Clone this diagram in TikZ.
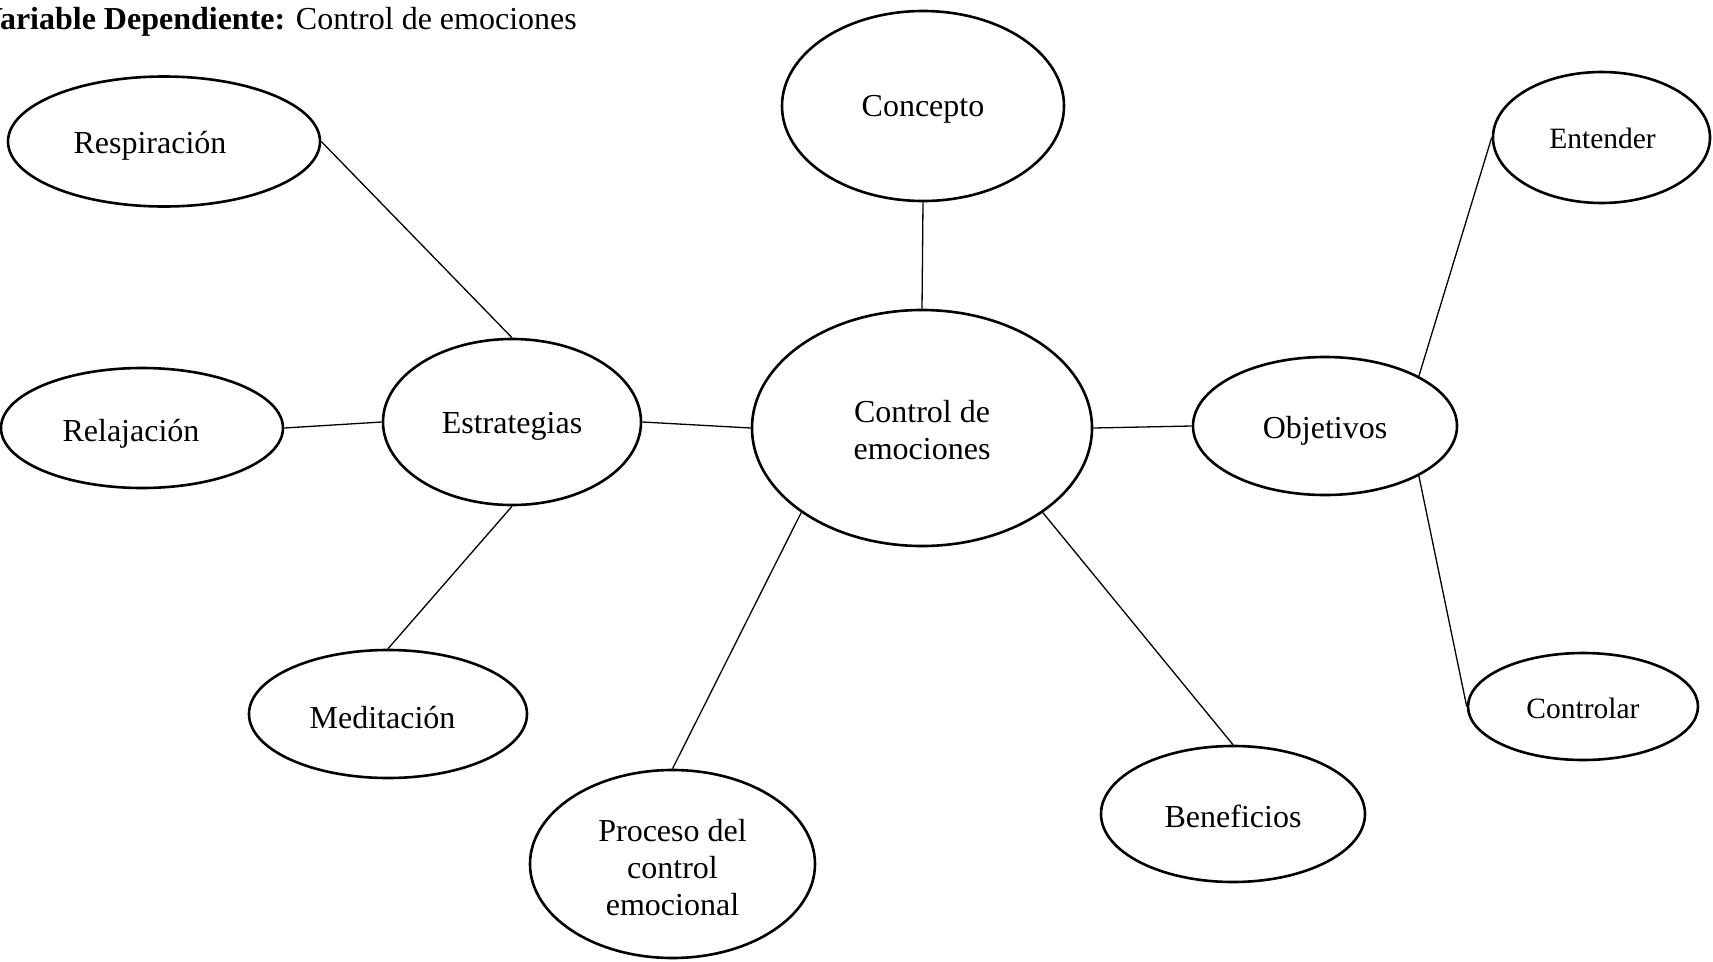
\documentclass[tikz,border=0pt]{standalone}
\usepackage{fontspec}
\setmainfont{Liberation Serif}
\usetikzlibrary{shapes.geometric}
\begin{document}
\begin{tikzpicture}[x=1pt,y=-1pt,
  ell/.style={ellipse, draw=black, line width=2.6pt, fill=white, inner sep=0pt},
  lbl/.style={font=\fontsize{32}{37}\selectfont, align=center},
  lbls/.style={font=\fontsize{29.5}{34}\selectfont, align=center},
  conn/.style={draw=black, line width=1.3pt},
  ttl/.style={font=\fontsize{32}{37}\selectfont, inner sep=0pt}]
\useasboundingbox (0,0) rectangle (1713,961);
\fill[white] (0,0) rectangle (1713,961);

\node[ttl, anchor=base east] (title) at (577,29) {\textbf{Variable Dependiente:} Control de emociones};

\node[ell, minimum width=340pt, minimum height=236pt,
  label={[lbl, yshift=-2.5pt]center:Control de\\emociones}] (ctrl) at (922,428) {};
\node[ell, minimum width=282pt, minimum height=190pt,
  label={[lbl, yshift=-3.5pt]center:Concepto}] (conc) at (923,106) {};
\node[ell, minimum width=258pt, minimum height=166pt,
  label={[lbl, yshift=-4.5pt]center:Estrategias}] (estr) at (512,422) {};
\node[ell, minimum width=312pt, minimum height=130pt,
  label={[lbl, xshift=-14pt, yshift=-4.5pt]center:Respiración}] (resp) at (164,141.5) {};
\node[ell, minimum width=282pt, minimum height=120pt,
  label={[lbl, xshift=-11pt, yshift=-6pt]center:Relajación}] (rel) at (142,428) {};
\node[ell, minimum width=278pt, minimum height=128pt,
  label={[lbl, xshift=-5.5pt, yshift=-3.5pt]center:Meditación}] (med) at (388,714) {};
\node[ell, minimum width=285pt, minimum height=188pt,
  label={[lbl, yshift=-3.5pt]center:Proceso del\\control\\emocional}] (proc) at (672.5,864) {};
\node[ell, minimum width=264pt, minimum height=136pt,
  label={[lbl, yshift=-2.5pt]center:Beneficios}] (ben) at (1233,814) {};
\node[ell, minimum width=264pt, minimum height=138pt,
  label={[lbl, yshift=-5pt]center:Objetivos}] (obj) at (1325,426) {};
\node[ell, minimum width=217pt, minimum height=131pt,
  label={[lbls, xshift=1pt, yshift=-1pt]center:Entender}] (ent) at (1601.5,137.5) {};
\node[ell, minimum width=230pt, minimum height=107pt,
  label={[lbls, yshift=-2pt]center:Controlar}] (contr) at (1583,706.5) {};

\draw[conn] (resp.east) -- (estr.north);
\draw[conn] (rel.east) -- (estr.west);
\draw[conn] (med.north) -- (estr.south);
\draw[conn] (estr.east) -- (ctrl.west);
\draw[conn] (conc.south) -- (ctrl.north);
\draw[conn] (ctrl.east) -- (obj.west);
\draw[conn] (ctrl.215) -- (proc.north);
\draw[conn] (ctrl.325) -- (ben.north);
\draw[conn] (obj.28) -- (ent.west);
\draw[conn] (obj.332) -- (contr.west);
\end{tikzpicture}
\end{document}
